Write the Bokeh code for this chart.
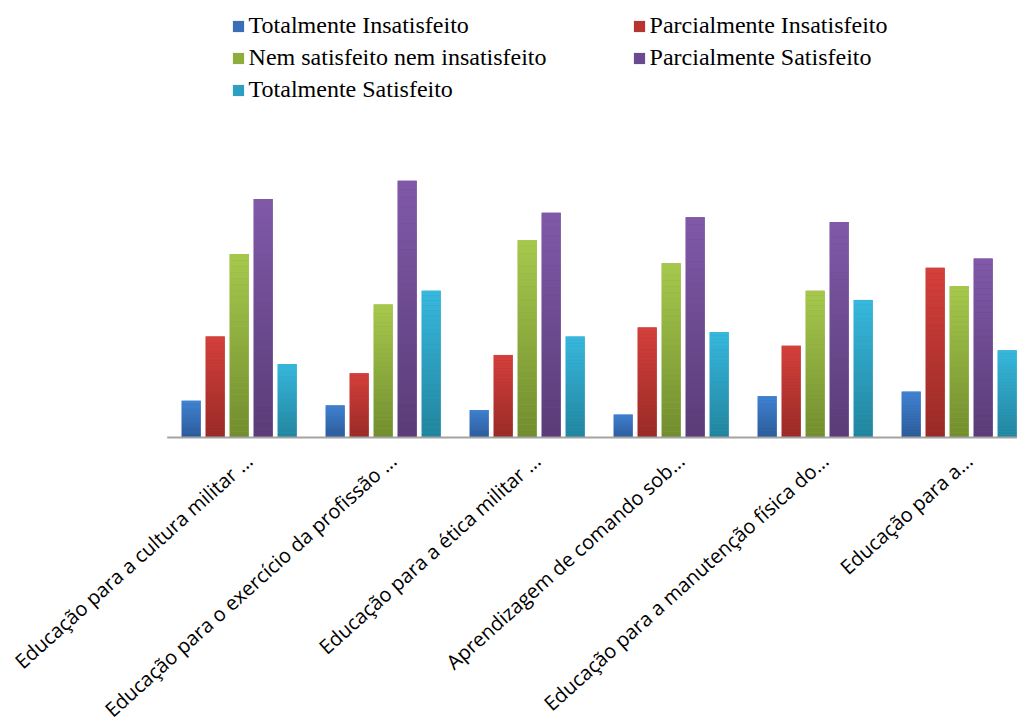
import numpy as np
from bokeh.plotting import figure
from bokeh.models import Range1d, Legend, LegendItem, LabelSet, ColumnDataSource
from bokeh.core.properties import value
from bokeh.embed import file_html
from bokeh.resources import INLINE

# ---- data ----
categories = [
    "Educação para a cultura militar ...",
    "Educação para o exercício da profissão ...",
    "Educação para a ética militar ...",
    "Aprendizagem de comando sob...",
    "Educação para a manutenção física do...",
    "Educação para a...",
]
series_names = [
    "Totalmente Insatisfeito",
    "Parcialmente Insatisfeito",
    "Nem satisfeito nem insatisfeito",
    "Parcialmente Satisfeito",
    "Totalmente Satisfeito",
]
totalmente_insatisfeito = [8, 7, 6, 5, 9, 10]
parcialmente_insatisfeito = [22, 14, 18, 24, 20, 37]
nem_satisfeito_nem_insatisfeito = [40, 29, 43, 38, 32, 33]
parcialmente_satisfeito = [52, 56, 49, 48, 47, 39]
totalmente_satisfeito = [16, 32, 22, 23, 30, 19]
series_values = [
    totalmente_insatisfeito,
    parcialmente_insatisfeito,
    nem_satisfeito_nem_insatisfeito,
    parcialmente_satisfeito,
    totalmente_satisfeito,
]

# ---- style ----
top_colors = ["#4184d4", "#d5403b", "#a6c94d", "#8059a9", "#37b8dd"]
bottom_colors = ["#2b5996", "#982a27", "#718d2e", "#5a3c77", "#22849d"]
mid_colors = ["#3a6fb8", "#b8352f", "#8fac3d", "#6c4a91", "#2d9fc0"]
PX_X = 144.0          # pixels per category
PX_Y = 4.587          # pixels per unit
BAR_STEP = 24.0 / PX_X
BAR_W = 19.0 / PX_X
K = 30


def lerp(c0, c1, t):
    a = [int(c0[i:i + 2], 16) for i in (1, 3, 5)]
    b = [int(c1[i:i + 2], 16) for i in (1, 3, 5)]
    return "#%02x%02x%02x" % tuple(int(round(a[i] + (b[i] - a[i]) * t)) for i in range(3))


W, H = 1017, 724
LEFT, BASE = 166.7, 437.0
p = figure(
    width=W, height=H, output_backend="svg", toolbar_location=None,
    x_range=Range1d(-LEFT / PX_X, (W - LEFT) / PX_X),
    y_range=Range1d(-(H - BASE) / PX_Y, BASE / PX_Y),
    x_axis_type=None, y_axis_type=None,
    min_border_left=0, min_border_right=0, min_border_top=0, min_border_bottom=0,
)
p.outline_line_color = None
p.grid.visible = False
p.background_fill_color = "white"
p.border_fill_color = "white"

n_cat = len(categories)

items = []
for j, (name, vals) in enumerate(zip(series_names, series_values)):
    xs = [i + 0.5 + (j - 2) * BAR_STEP for i in range(n_cat)]
    base = p.vbar(x=xs, top=vals, width=BAR_W, fill_color=mid_colors[j], line_color=None)
    sx, sb, st, sc = [], [], [], []
    for k in range(K):
        col = lerp(bottom_colors[j], top_colors[j], (k + 0.5) / K)
        for x, v in zip(xs, vals):
            sx.append(x)
            sb.append(v * k / K)
            st.append(v * (k + 1) / K)
            sc.append(col)
    p.vbar(x=sx, bottom=sb, top=st, width=BAR_W, fill_color=sc, line_color=None)
    items.append(LegendItem(label=name, renderers=[base]))

# category axis baseline
p.line(x=[0, n_cat], y=[0, 0], line_color="#a3a3a3", line_width=2)

legend = Legend(
    items=items, orientation="horizontal", ncols=2,
    location=(230.6, 618.5), margin=0, padding=0, spacing=0,
    glyph_width=14, glyph_height=14, label_standoff=4,
    label_width=383, label_height=32,
    label_text_font="Liberation Serif", label_text_font_size="24px",
    label_text_color="#000000",
    border_line_alpha=0, background_fill_alpha=0,
)
p.add_layout(legend)

lab_src = ColumnDataSource(dict(x=[i + 0.5 for i in range(n_cat)], y=[0] * n_cat, text=categories))
labels = LabelSet(
    x="x", y="y", text="text", source=lab_src,
    angle=0.73, angle_units="rad", text_align="right", text_baseline="middle",
    x_offset=10, y_offset=-20,
    text_font=value("Open Sans"), text_font_size="20px", text_color="#000000",
)
p.add_layout(labels)

open("out.html", "w").write(file_html(p, INLINE))
